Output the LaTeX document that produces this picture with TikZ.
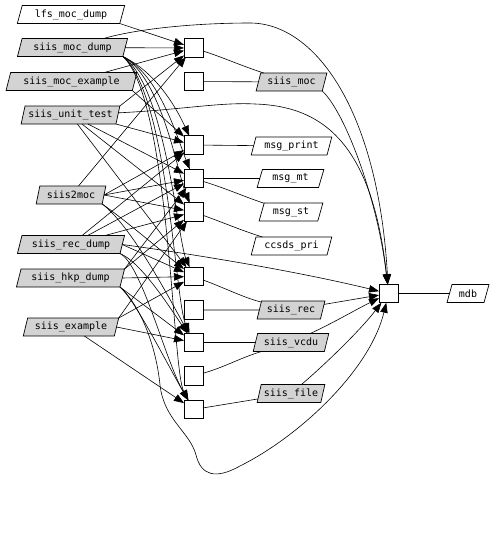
\documentclass[tikz,border=0pt]{standalone}
\usepackage{fontspec}
\setmonofont{DejaVu Sans Mono}
\usetikzlibrary{shapes.geometric,arrows.meta}
\definecolor{lgray}{HTML}{D3D3D3}
\begin{document}
\begin{tikzpicture}[x=1pt,y=-1pt,
  para/.style={trapezium, trapezium left angle=70, trapezium right angle=110, trapezium stretches=true, draw=black, line width=0.7pt, inner sep=0pt, outer sep=0pt, minimum height=18pt, font=\ttfamily\fontsize{10}{12}\selectfont},
  gpara/.style={para, fill=lgray},
  sq/.style={draw=black, fill=white, line width=0.7pt, minimum width=19pt, minimum height=18.5pt, inner sep=0pt, outer sep=0pt},
  arr/.style={line width=0.6pt, -{Triangle[length=10pt,width=7.5pt]}},
  lin/.style={line width=0.6pt},
]
\useasboundingbox (0,0) rectangle (496,536);
% left column
\node[para, minimum width=108pt] (L1) at (71,14.5) {lfs\_moc\_dump};
\node[gpara, minimum width=111pt] (L2) at (72.5,47.5) {siis\_moc\_dump};
\node[gpara, minimum width=131pt] (L3) at (71.5,81.5) {siis\_moc\_example};
\node[gpara, minimum width=99pt] (L4) at (70.5,115) {siis\_unit\_test};
\node[gpara, minimum width=70pt] (L5) at (71,195) {siis2moc};
\node[gpara, minimum width=108pt] (L6) at (71,244.5) {siis\_rec\_dump};
\node[gpara, minimum width=109pt] (L7) at (70.5,278) {siis\_hkp\_dump};
\node[gpara, minimum width=96pt] (L8) at (71,327) {siis\_example};
% squares
\node[sq] (S1) at (193.5,48) {};
\node[sq] (S2) at (193.5,81.5) {};
\node[sq] (S3) at (193.5,145) {};
\node[sq] (S4) at (193.5,178.5) {};
\node[sq] (S5) at (193.5,212) {};
\node[sq] (S6) at (193.5,276.5) {};
\node[sq] (S7) at (193.5,310) {};
\node[sq] (S8) at (193.5,342.5) {};
\node[sq] (S9) at (193.5,376) {};
\node[sq] (S10) at (193.5,409.5) {};
\node[sq] (M) at (388.5,293.5) {};
% right column
\node[gpara, minimum width=71pt] (moc) at (291.5,82) {siis\_moc};
\node[para, minimum width=81pt] (print) at (291.5,146) {msg\_print};
\node[para, minimum width=67pt] (mt) at (290.5,178.5) {msg\_mt};
\node[para, minimum width=64pt] (st) at (291,212) {msg\_st};
\node[para, minimum width=81pt] (ccsds) at (291.5,246) {ccsds\_pri};
\node[gpara, minimum width=68pt] (rec) at (291,310) {siis\_rec};
\node[gpara, minimum width=76pt] (vcdu) at (291,342.5) {siis\_vcdu};
\node[gpara, minimum width=68pt] (file) at (291,393.5) {siis\_file};
\node[para, minimum width=42pt] (mdb) at (468,293.5) {mdb};
% outputs
\draw[lin] (S1) .. controls (222,57) and (242,66) .. (moc);
\draw[lin] (S2) -- (moc);
\draw[lin] (S3) -- (print);
\draw[lin] (S4) -- (mt);
\draw[lin] (S4) .. controls (225,188) and (245,197) .. (st);
\draw[lin] (S5) .. controls (222,222) and (240,230) .. (ccsds);
\draw[lin] (S6) .. controls (225,288) and (242,297) .. (rec);
\draw[lin] (S7) -- (rec);
\draw[lin] (S8) -- (vcdu);
\draw[lin] (S9) .. controls (225,367) and (240,358) .. (vcdu);
\draw[lin] (S10) -- (file);
\draw[lin] (M) -- (mdb);
% into M
\draw[arr] (moc.bottom right corner) .. controls (345,112) and (378,200) .. (M);
\draw[arr] (rec) -- (M);
\draw[arr] (vcdu) .. controls (335,322) and (355,310) .. (M);
\draw[arr] (file) .. controls (330,360) and (362,328) .. (M);
\draw[arr] (L2) .. controls (140,28) and (200,23) .. (250,23) .. controls (315,23) and (378,110) .. (M);
\draw[arr] (L4) .. controls (180,110) and (220,102) .. (255,104) .. controls (320,106) and (372,140) .. (M);
\draw[arr] (L6.east) .. controls (200,255) and (300,272) .. (M);
\draw[arr] (L7.bottom right corner) .. controls (140,305) and (156,345) .. (160,385) .. controls (164,420) and (190,432) .. (196,455) .. controls (201,475) and (215,480) .. (240,466) .. controls (300,436) and (370,370) .. (M);
% into S1
\draw[arr] (L1.bottom right corner) -- (S1);
\draw[arr] (L2) -- (S1);
\draw[arr] (L3) -- (S1);
\draw[arr] (L4.top right corner) -- (S1);
\draw[arr] (L5) -- (S1);
% L2 bundle
\draw[arr] (L2.bottom right corner) .. controls (155,72) and (175,105) .. (S3);
\draw[arr] (L2.bottom right corner) .. controls (160,75) and (178,140) .. (S4);
\draw[arr] (L2.bottom right corner) .. controls (162,78) and (178,175) .. (S5);
\draw[arr] (L2.bottom right corner) .. controls (165,85) and (178,240) .. (S6);
\draw[arr] (L2.bottom right corner) .. controls (168,95) and (175,300) .. (S8);
\draw[arr] (L2.bottom right corner) .. controls (170,100) and (172,370) .. (S10);
% L3
\draw[arr] (L3.bottom right corner) -- (S3);
% L4
\draw[arr] (L4.bottom right corner) -- (S3);
\draw[arr] (L4) -- (S4);
\draw[arr] (L4) -- (S5);
\draw[arr] (L4) -- (S6);
% L5
\draw[arr] (L5.east) -- (S3);
\draw[arr] (L5.east) -- (S4);
\draw[arr] (L5.east) -- (S5);
\draw[arr] (L5.bottom right corner) .. controls (125,220) and (160,250) .. (S6);
\draw[arr] (L5.bottom right corner) .. controls (130,225) and (165,290) .. (S8);
% L6
\draw[arr] (L6) -- (S3);
\draw[arr] (L6) -- (S4);
\draw[arr] (L6) -- (S5);
\draw[arr] (L6.east) -- (S6);
\draw[arr] (L6.bottom right corner) .. controls (140,262) and (165,300) .. (S8);
\draw[arr] (L6.bottom right corner) .. controls (142,265) and (165,360) .. (S10);
% L7
\draw[arr] (L7.top right corner) -- (S4);
\draw[arr] (L7.top right corner) -- (S5);
\draw[arr] (L7.east) -- (S6);
\draw[arr] (L7.bottom right corner) -- (S8);
\draw[arr] (L7.bottom right corner) .. controls (135,300) and (165,360) .. (S10);
% L8
\draw[arr] (L8.top right corner) -- (S5);
\draw[arr] (L8.top right corner) -- (S6);
\draw[arr] (L8.east) -- (S8);
\draw[arr] (L8) -- (S10);
\end{tikzpicture}
\end{document}
